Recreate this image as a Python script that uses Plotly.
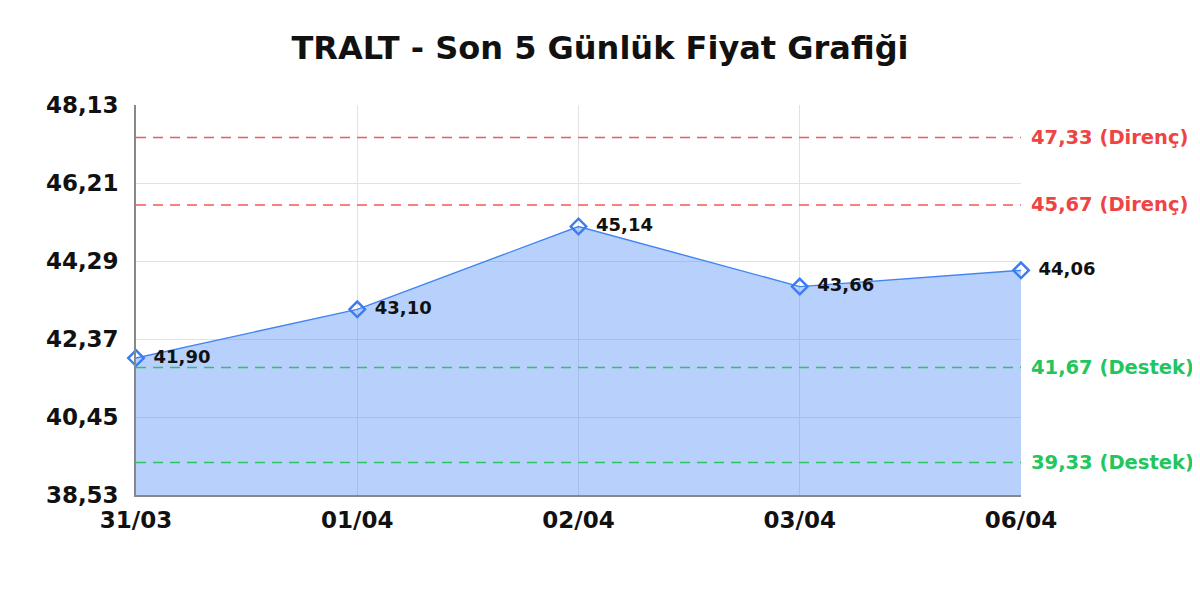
import plotly.graph_objects as go

dates = ["31/03", "01/04", "02/04", "03/04", "06/04"]
prices = [41.90, 43.10, 45.14, 43.66, 44.06]
price_labels = ["41,90", "43,10", "45,14", "43,66", "44,06"]
y_ticks = [38.53, 40.45, 42.37, 44.29, 46.21, 48.13]
y_tick_labels = ["38,53", "40,45", "42,37", "44,29", "46,21", "48,13"]
resistance = [47.33, 45.67]
resistance_labels = ["47,33 (Direnç)", "45,67 (Direnç)"]
support = [41.67, 39.33]
support_labels = ["41,67 (Destek)", "39,33 (Destek)"]

FONT = "DejaVu Sans"
x_idx = list(range(len(dates)))

fig = go.Figure()
fig.add_trace(go.Scatter(
    x=x_idx, y=prices, mode="lines+markers+text",
    fill="tozeroy", fillcolor="rgba(59,130,246,0.37)",
    line=dict(color="#3f84f5", width=1.4),
    marker=dict(symbol="diamond-open", size=12, color="#3b7cf0", line=dict(width=2.4)),
    text=["\u2002" + t for t in price_labels], textposition="middle right",
    textfont=dict(family=FONT, size=18, color="#111111", weight="bold"),
    cliponaxis=False, showlegend=False, hoverinfo="skip",
))

shapes = []
annotations = []
for v, lab in zip(resistance, resistance_labels):
    shapes.append(dict(type="line", xref="paper", x0=0, x1=1, yref="y", y0=v, y1=v,
                       line=dict(color="#f05a5a", width=1.4, dash="10px,7px")))
    annotations.append(dict(xref="paper", x=1.0, xanchor="left", xshift=8, yref="y", y=v,
                            text=lab, showarrow=False,
                            font=dict(family=FONT, size=19.5, color="#ef4444", weight="bold")))
for v, lab in zip(support, support_labels):
    shapes.append(dict(type="line", xref="paper", x0=0, x1=1, yref="y", y0=v, y1=v,
                       line=dict(color="#2ec463", width=1.4, dash="10px,7px")))
    annotations.append(dict(xref="paper", x=1.0, xanchor="left", xshift=8, yref="y", y=v,
                            text=lab, showarrow=False,
                            font=dict(family=FONT, size=19.5, color="#22c55e", weight="bold")))

fig.update_layout(
    width=1200, height=600,
    margin=dict(l=128, r=187, t=97, b=113),
    paper_bgcolor="white", plot_bgcolor="white",
    title=dict(text="TRALT - Son 5 Günlük Fiyat Grafiği", x=0.5243, xanchor="center",
               xref="paper", y=0.933, yanchor="middle",
               font=dict(family=FONT, size=32, color="#111111", weight="bold")),
    shapes=shapes, annotations=annotations,
    xaxis=dict(range=[0, len(dates) - 1], tickvals=x_idx, ticktext=dates,
               showgrid=True, gridcolor="#e2e2e2", zeroline=False,
               showline=True, linecolor="#888888", linewidth=1.5,
               tickfont=dict(family=FONT, size=23, color="#111111", weight="bold"),
               ticks="", ticklabelstandoff=4),
    yaxis=dict(range=[y_ticks[0], y_ticks[-1]], tickvals=y_ticks, ticktext=y_tick_labels,
               showgrid=True, gridcolor="#e2e2e2", zeroline=False,
               showline=True, linecolor="#888888", linewidth=1.5,
               tickfont=dict(family=FONT, size=23, color="#111111", weight="bold"),
               ticks="", ticklabelstandoff=11),
)

fig.write_html("out.html")
